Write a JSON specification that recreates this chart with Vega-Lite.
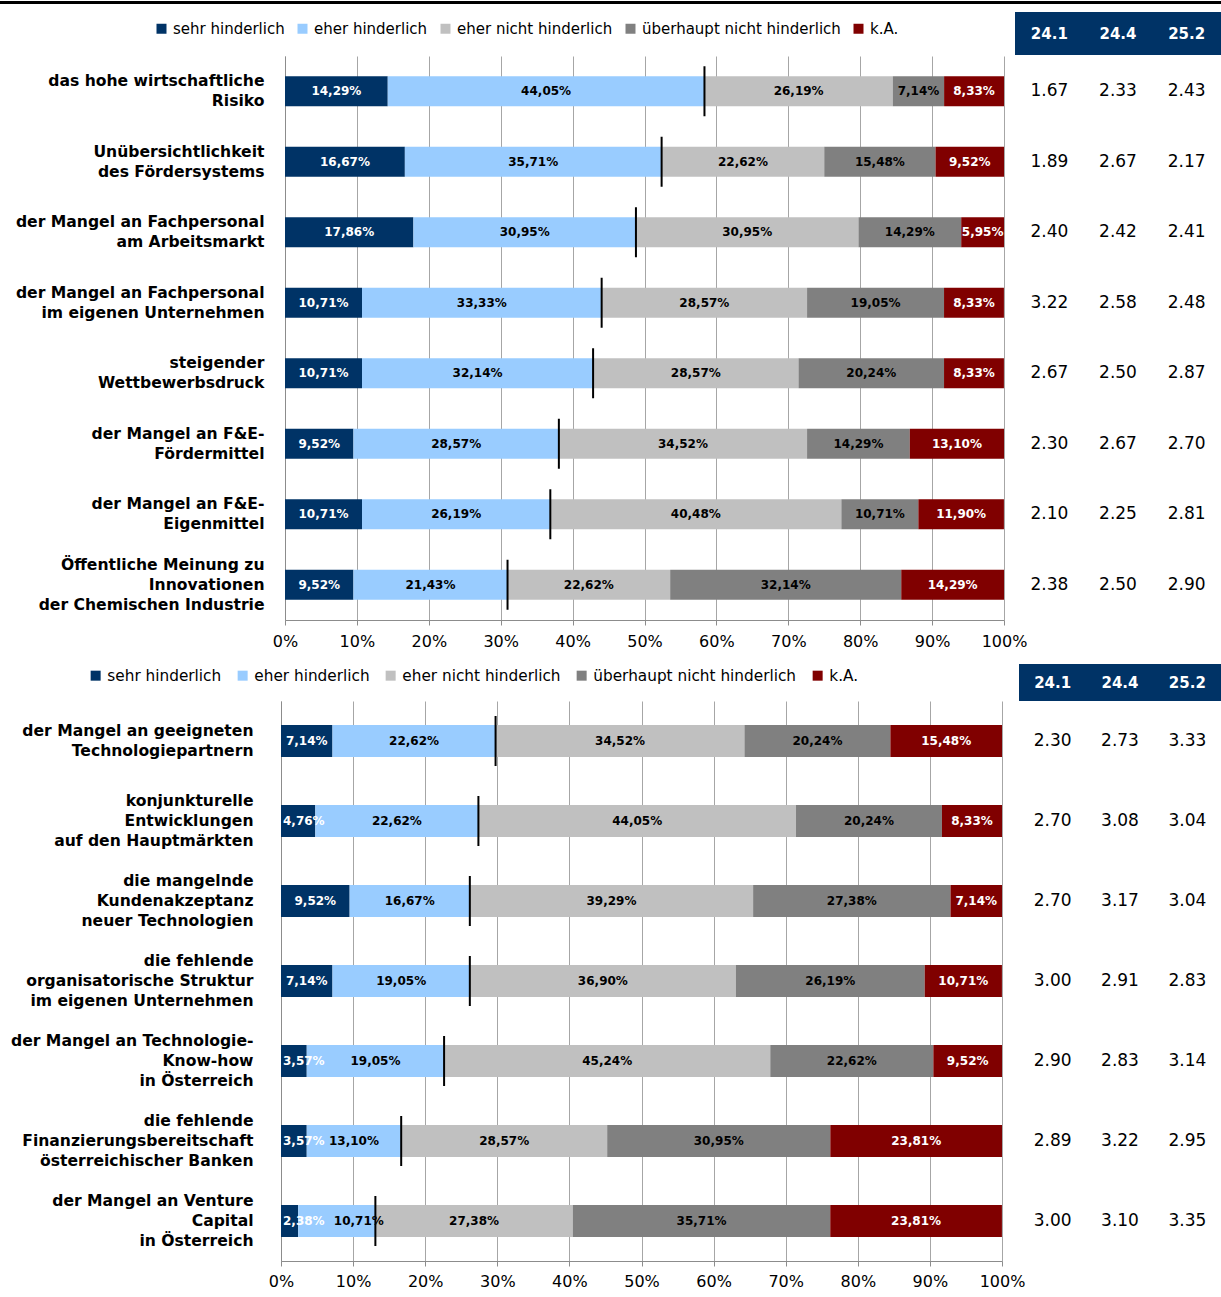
{
  "$schema": "https://vega.github.io/schema/vega-lite/v6.json",
  "padding": {"top": 1, "left": 0, "right": 0, "bottom": 0},
  "background": "white",
  "config": {"font": "DejaVu Sans", "view": {"stroke": null}},
  "datasets": {
    "top": [
      {"item": "das hohe wirtschaftliche|Risiko", "cat": "sehr hinderlich", "pct": 14.29},
      {"item": "das hohe wirtschaftliche|Risiko", "cat": "eher hinderlich", "pct": 44.05},
      {"item": "das hohe wirtschaftliche|Risiko", "cat": "eher nicht hinderlich", "pct": 26.19},
      {"item": "das hohe wirtschaftliche|Risiko", "cat": "überhaupt nicht hinderlich", "pct": 7.14},
      {"item": "das hohe wirtschaftliche|Risiko", "cat": "k.A.", "pct": 8.33},
      {"item": "Unübersichtlichkeit|des Fördersystems", "cat": "sehr hinderlich", "pct": 16.67},
      {"item": "Unübersichtlichkeit|des Fördersystems", "cat": "eher hinderlich", "pct": 35.71},
      {"item": "Unübersichtlichkeit|des Fördersystems", "cat": "eher nicht hinderlich", "pct": 22.62},
      {"item": "Unübersichtlichkeit|des Fördersystems", "cat": "überhaupt nicht hinderlich", "pct": 15.48},
      {"item": "Unübersichtlichkeit|des Fördersystems", "cat": "k.A.", "pct": 9.52},
      {"item": "der Mangel an Fachpersonal|am Arbeitsmarkt", "cat": "sehr hinderlich", "pct": 17.86},
      {"item": "der Mangel an Fachpersonal|am Arbeitsmarkt", "cat": "eher hinderlich", "pct": 30.95},
      {"item": "der Mangel an Fachpersonal|am Arbeitsmarkt", "cat": "eher nicht hinderlich", "pct": 30.95},
      {"item": "der Mangel an Fachpersonal|am Arbeitsmarkt", "cat": "überhaupt nicht hinderlich", "pct": 14.29},
      {"item": "der Mangel an Fachpersonal|am Arbeitsmarkt", "cat": "k.A.", "pct": 5.95},
      {"item": "der Mangel an Fachpersonal|im eigenen Unternehmen", "cat": "sehr hinderlich", "pct": 10.71},
      {"item": "der Mangel an Fachpersonal|im eigenen Unternehmen", "cat": "eher hinderlich", "pct": 33.33},
      {"item": "der Mangel an Fachpersonal|im eigenen Unternehmen", "cat": "eher nicht hinderlich", "pct": 28.57},
      {"item": "der Mangel an Fachpersonal|im eigenen Unternehmen", "cat": "überhaupt nicht hinderlich", "pct": 19.05},
      {"item": "der Mangel an Fachpersonal|im eigenen Unternehmen", "cat": "k.A.", "pct": 8.33},
      {"item": "steigender|Wettbewerbsdruck", "cat": "sehr hinderlich", "pct": 10.71},
      {"item": "steigender|Wettbewerbsdruck", "cat": "eher hinderlich", "pct": 32.14},
      {"item": "steigender|Wettbewerbsdruck", "cat": "eher nicht hinderlich", "pct": 28.57},
      {"item": "steigender|Wettbewerbsdruck", "cat": "überhaupt nicht hinderlich", "pct": 20.24},
      {"item": "steigender|Wettbewerbsdruck", "cat": "k.A.", "pct": 8.33},
      {"item": "der Mangel an F&E-|Fördermittel", "cat": "sehr hinderlich", "pct": 9.52},
      {"item": "der Mangel an F&E-|Fördermittel", "cat": "eher hinderlich", "pct": 28.57},
      {"item": "der Mangel an F&E-|Fördermittel", "cat": "eher nicht hinderlich", "pct": 34.52},
      {"item": "der Mangel an F&E-|Fördermittel", "cat": "überhaupt nicht hinderlich", "pct": 14.29},
      {"item": "der Mangel an F&E-|Fördermittel", "cat": "k.A.", "pct": 13.10},
      {"item": "der Mangel an F&E-|Eigenmittel", "cat": "sehr hinderlich", "pct": 10.71},
      {"item": "der Mangel an F&E-|Eigenmittel", "cat": "eher hinderlich", "pct": 26.19},
      {"item": "der Mangel an F&E-|Eigenmittel", "cat": "eher nicht hinderlich", "pct": 40.48},
      {"item": "der Mangel an F&E-|Eigenmittel", "cat": "überhaupt nicht hinderlich", "pct": 10.71},
      {"item": "der Mangel an F&E-|Eigenmittel", "cat": "k.A.", "pct": 11.90},
      {"item": "Öffentliche Meinung zu|Innovationen|der Chemischen Industrie", "cat": "sehr hinderlich", "pct": 9.52},
      {"item": "Öffentliche Meinung zu|Innovationen|der Chemischen Industrie", "cat": "eher hinderlich", "pct": 21.43},
      {"item": "Öffentliche Meinung zu|Innovationen|der Chemischen Industrie", "cat": "eher nicht hinderlich", "pct": 22.62},
      {"item": "Öffentliche Meinung zu|Innovationen|der Chemischen Industrie", "cat": "überhaupt nicht hinderlich", "pct": 32.14},
      {"item": "Öffentliche Meinung zu|Innovationen|der Chemischen Industrie", "cat": "k.A.", "pct": 14.29}
    ],
    "topTab": [
      {"row": 1, "col": "24.1", "val": 1.67}, {"row": 1, "col": "24.4", "val": 2.33}, {"row": 1, "col": "25.2", "val": 2.43},
      {"row": 2, "col": "24.1", "val": 1.89}, {"row": 2, "col": "24.4", "val": 2.67}, {"row": 2, "col": "25.2", "val": 2.17},
      {"row": 3, "col": "24.1", "val": 2.40}, {"row": 3, "col": "24.4", "val": 2.42}, {"row": 3, "col": "25.2", "val": 2.41},
      {"row": 4, "col": "24.1", "val": 3.22}, {"row": 4, "col": "24.4", "val": 2.58}, {"row": 4, "col": "25.2", "val": 2.48},
      {"row": 5, "col": "24.1", "val": 2.67}, {"row": 5, "col": "24.4", "val": 2.50}, {"row": 5, "col": "25.2", "val": 2.87},
      {"row": 6, "col": "24.1", "val": 2.30}, {"row": 6, "col": "24.4", "val": 2.67}, {"row": 6, "col": "25.2", "val": 2.70},
      {"row": 7, "col": "24.1", "val": 2.10}, {"row": 7, "col": "24.4", "val": 2.25}, {"row": 7, "col": "25.2", "val": 2.81},
      {"row": 8, "col": "24.1", "val": 2.38}, {"row": 8, "col": "24.4", "val": 2.50}, {"row": 8, "col": "25.2", "val": 2.90}
    ],
    "bot": [
      {"item": "der Mangel an geeigneten|Technologiepartnern", "cat": "sehr hinderlich", "pct": 7.14},
      {"item": "der Mangel an geeigneten|Technologiepartnern", "cat": "eher hinderlich", "pct": 22.62},
      {"item": "der Mangel an geeigneten|Technologiepartnern", "cat": "eher nicht hinderlich", "pct": 34.52},
      {"item": "der Mangel an geeigneten|Technologiepartnern", "cat": "überhaupt nicht hinderlich", "pct": 20.24},
      {"item": "der Mangel an geeigneten|Technologiepartnern", "cat": "k.A.", "pct": 15.48},
      {"item": "konjunkturelle|Entwicklungen|auf den Hauptmärkten", "cat": "sehr hinderlich", "pct": 4.76},
      {"item": "konjunkturelle|Entwicklungen|auf den Hauptmärkten", "cat": "eher hinderlich", "pct": 22.62},
      {"item": "konjunkturelle|Entwicklungen|auf den Hauptmärkten", "cat": "eher nicht hinderlich", "pct": 44.05},
      {"item": "konjunkturelle|Entwicklungen|auf den Hauptmärkten", "cat": "überhaupt nicht hinderlich", "pct": 20.24},
      {"item": "konjunkturelle|Entwicklungen|auf den Hauptmärkten", "cat": "k.A.", "pct": 8.33},
      {"item": "die mangelnde|Kundenakzeptanz|neuer Technologien", "cat": "sehr hinderlich", "pct": 9.52},
      {"item": "die mangelnde|Kundenakzeptanz|neuer Technologien", "cat": "eher hinderlich", "pct": 16.67},
      {"item": "die mangelnde|Kundenakzeptanz|neuer Technologien", "cat": "eher nicht hinderlich", "pct": 39.29},
      {"item": "die mangelnde|Kundenakzeptanz|neuer Technologien", "cat": "überhaupt nicht hinderlich", "pct": 27.38},
      {"item": "die mangelnde|Kundenakzeptanz|neuer Technologien", "cat": "k.A.", "pct": 7.14},
      {"item": "die fehlende|organisatorische Struktur|im eigenen Unternehmen", "cat": "sehr hinderlich", "pct": 7.14},
      {"item": "die fehlende|organisatorische Struktur|im eigenen Unternehmen", "cat": "eher hinderlich", "pct": 19.05},
      {"item": "die fehlende|organisatorische Struktur|im eigenen Unternehmen", "cat": "eher nicht hinderlich", "pct": 36.90},
      {"item": "die fehlende|organisatorische Struktur|im eigenen Unternehmen", "cat": "überhaupt nicht hinderlich", "pct": 26.19},
      {"item": "die fehlende|organisatorische Struktur|im eigenen Unternehmen", "cat": "k.A.", "pct": 10.71},
      {"item": "der Mangel an Technologie-|Know-how|in Österreich", "cat": "sehr hinderlich", "pct": 3.57},
      {"item": "der Mangel an Technologie-|Know-how|in Österreich", "cat": "eher hinderlich", "pct": 19.05},
      {"item": "der Mangel an Technologie-|Know-how|in Österreich", "cat": "eher nicht hinderlich", "pct": 45.24},
      {"item": "der Mangel an Technologie-|Know-how|in Österreich", "cat": "überhaupt nicht hinderlich", "pct": 22.62},
      {"item": "der Mangel an Technologie-|Know-how|in Österreich", "cat": "k.A.", "pct": 9.52},
      {"item": "die fehlende|Finanzierungsbereitschaft|österreichischer Banken", "cat": "sehr hinderlich", "pct": 3.57},
      {"item": "die fehlende|Finanzierungsbereitschaft|österreichischer Banken", "cat": "eher hinderlich", "pct": 13.10},
      {"item": "die fehlende|Finanzierungsbereitschaft|österreichischer Banken", "cat": "eher nicht hinderlich", "pct": 28.57},
      {"item": "die fehlende|Finanzierungsbereitschaft|österreichischer Banken", "cat": "überhaupt nicht hinderlich", "pct": 30.95},
      {"item": "die fehlende|Finanzierungsbereitschaft|österreichischer Banken", "cat": "k.A.", "pct": 23.81},
      {"item": "der Mangel an Venture|Capital|in Österreich", "cat": "sehr hinderlich", "pct": 2.38},
      {"item": "der Mangel an Venture|Capital|in Österreich", "cat": "eher hinderlich", "pct": 10.71},
      {"item": "der Mangel an Venture|Capital|in Österreich", "cat": "eher nicht hinderlich", "pct": 27.38},
      {"item": "der Mangel an Venture|Capital|in Österreich", "cat": "überhaupt nicht hinderlich", "pct": 35.71},
      {"item": "der Mangel an Venture|Capital|in Österreich", "cat": "k.A.", "pct": 23.81}
    ],
    "botTab": [
      {"row": 1, "col": "24.1", "val": 2.30}, {"row": 1, "col": "24.4", "val": 2.73}, {"row": 1, "col": "25.2", "val": 3.33},
      {"row": 2, "col": "24.1", "val": 2.70}, {"row": 2, "col": "24.4", "val": 3.08}, {"row": 2, "col": "25.2", "val": 3.04},
      {"row": 3, "col": "24.1", "val": 2.70}, {"row": 3, "col": "24.4", "val": 3.17}, {"row": 3, "col": "25.2", "val": 3.04},
      {"row": 4, "col": "24.1", "val": 3.00}, {"row": 4, "col": "24.4", "val": 2.91}, {"row": 4, "col": "25.2", "val": 2.83},
      {"row": 5, "col": "24.1", "val": 2.90}, {"row": 5, "col": "24.4", "val": 2.83}, {"row": 5, "col": "25.2", "val": 3.14},
      {"row": 6, "col": "24.1", "val": 2.89}, {"row": 6, "col": "24.4", "val": 3.22}, {"row": 6, "col": "25.2", "val": 2.95},
      {"row": 7, "col": "24.1", "val": 3.00}, {"row": 7, "col": "24.4", "val": 3.10}, {"row": 7, "col": "25.2", "val": 3.35}
    ],
    "cols": [{"col": "24.1"}, {"col": "24.4"}, {"col": "25.2"}]
  },
  "spacing": 0,
  "resolve": {"scale": {"color": "independent", "x": "independent", "y": "independent"}, "legend": {"color": "independent"}},
  "vconcat": [
    {"width": 1221, "height": 3, "view": {"fill": "black", "stroke": null}, "data": {"values": []}, "mark": "point"},
    {"width": 1, "height": 8, "data": {"values": []}, "mark": "point"},
    {
      "hconcat": [
        {
          "width": 1015, "height": 43,
          "data": {"values": []},
          "mark": {"type": "square"},
          "encoding": {
            "color": {
              "field": "cat", "type": "nominal",
              "scale": {"domain": ["sehr hinderlich", "eher hinderlich", "eher nicht hinderlich", "überhaupt nicht hinderlich", "k.A."], "range": ["#003366", "#99ccff", "#c0c0c0", "#808080", "#800000"]},
              "legend": {"orient": "none", "direction": "horizontal", "legendX": 154, "legendY": 9, "title": null, "symbolType": "square", "symbolSize": 100, "symbolStrokeWidth": 0, "symbolOpacity": 1, "labelFont": "DejaVu Sans", "labelFontSize": 15, "labelColor": "black", "labelOffset": 4, "columnPadding": 10, "labelLimit": 400}
            }
          }
        },
        {
          "width": 206, "height": 43,
          "view": {"fill": "#003366", "stroke": null},
          "data": {"name": "cols"},
          "mark": {"type": "text", "color": "white", "fontWeight": "bold", "fontSize": 15, "font": "DejaVu Sans"},
          "encoding": {
            "x": {"field": "col", "type": "nominal", "sort": null, "axis": null},
            "text": {"field": "col"}
          }
        }
      ],
      "spacing": 0, "bounds": "flush"
    },
    {"width": 1, "height": 1, "data": {"values": []}, "mark": "point"},
    {
      "hconcat": [
        {"width": 285, "height": 564, "data": {"values": []}, "mark": "point"},
        {
          "width": 719, "height": 564,
          "data": {"name": "top"},
          "transform": [
            {"window": [{"op": "row_number", "as": "ord"}], "groupby": ["item"]},
            {"stack": "pct", "groupby": ["item"], "sort": [{"field": "ord"}], "as": ["x0", "x1"]},
            {"calculate": "datum.ord == 1 && datum.pct < 6 ? datum.x0 : (datum.x0 + datum.x1) / 2", "as": "lx"}
          ],
          "encoding": {
            "y": {
              "field": "item", "type": "nominal", "sort": null, "title": null,
              "scale": {"paddingInner": 0.575, "paddingOuter": 0.2875},
              "axis": {"labelExpr": "split(datum.label, '|')", "labelFont": "DejaVu Sans", "labelFontWeight": "bold", "labelFontSize": 15.6, "labelLineHeight": 20, "labelColor": "black", "labelPadding": 21, "ticks": false, "domainColor": "#8c8c8c", "labelLimit": 400,
                "labelOffset": {"condition": {"test": "length(split(datum.label, '|')) >= 3", "value": -20}, "value": -10}}
            }
          },
          "layer": [
            {
              "mark": {"type": "bar"},
              "encoding": {
                "x": {"field": "x0", "type": "quantitative", "title": null, "scale": {"domain": [0, 100], "nice": false},
                  "axis": {"values": [0, 10, 20, 30, 40, 50, 60, 70, 80, 90, 100], "labelExpr": "datum.value + '%'", "grid": true, "gridColor": "#a6a6a6", "domainColor": "#8c8c8c", "tickColor": "#8c8c8c", "tickSize": 5, "labelFont": "DejaVu Sans", "labelFontSize": 16, "labelColor": "black", "labelPadding": 8, "labelFlush": false, "labelOverlap": false}},
                "x2": {"field": "x1"},
                "color": {
                  "field": "cat", "type": "nominal",
                  "scale": {"domain": ["sehr hinderlich", "eher hinderlich", "eher nicht hinderlich", "überhaupt nicht hinderlich", "k.A."], "range": ["#003366", "#99ccff", "#c0c0c0", "#808080", "#800000"]},
                  "legend": null
                }
              }
            },
            {
              "mark": {"type": "text", "fontWeight": "bold", "fontSize": 12, "font": "DejaVu Sans",
                "text": {"expr": "replace(format(datum.pct, '.2f'), '.', ',') + '%'"},
                "align": {"expr": "datum.ord == 1 && datum.pct < 6 ? 'left' : 'center'"},
                "dx": {"expr": "datum.ord == 1 && datum.pct < 6 ? 2 : 0"}},
              "encoding": {
                "x": {"field": "lx", "type": "quantitative"},
                "color": {"condition": {"test": "datum.ord == 1 || datum.ord == 5", "value": "white"}, "value": "black"}
              }
            },
            {
              "transform": [
                {"filter": "datum.ord <= 2"},
                {"aggregate": [{"op": "sum", "field": "pct", "as": "hind"}], "groupby": ["item"]}
              ],
              "mark": {"type": "tick", "color": "black", "opacity": 1, "thickness": 2, "size": 50},
              "encoding": {"x": {"field": "hind", "type": "quantitative"}}
            }
          ]
        },
        {"width": 11, "height": 564, "data": {"values": []}, "mark": "point"},
        {
          "width": 206, "height": 564,
          "data": {"name": "topTab"},
          "mark": {"type": "text", "font": "DejaVu Sans", "fontSize": 17, "color": "black"},
          "encoding": {
            "x": {"field": "col", "type": "nominal", "sort": null, "axis": null},
            "y": {"field": "row", "type": "ordinal", "axis": null},
            "text": {"field": "val", "type": "quantitative", "format": ".2f"}
          }
        }
      ],
      "spacing": 0, "bounds": "flush"
    },
    {"width": 1, "height": 15, "data": {"values": []}, "mark": "point"},
    {
      "hconcat": [
        {
          "width": 1019, "height": 37,
          "data": {"values": []},
          "mark": {"type": "square"},
          "encoding": {
            "color": {
              "field": "cat", "type": "nominal",
              "scale": {"domain": ["sehr hinderlich", "eher hinderlich", "eher nicht hinderlich", "überhaupt nicht hinderlich", "k.A."], "range": ["#003366", "#99ccff", "#c0c0c0", "#808080", "#800000"]},
              "legend": {"orient": "none", "direction": "horizontal", "legendX": 88, "legendY": 4, "title": null, "symbolType": "square", "symbolSize": 100, "symbolStrokeWidth": 0, "symbolOpacity": 1, "labelFont": "DejaVu Sans", "labelFontSize": 15.3, "labelColor": "black", "labelOffset": 4, "columnPadding": 13, "labelLimit": 400}
            }
          }
        },
        {
          "width": 202, "height": 37,
          "view": {"fill": "#003366", "stroke": null},
          "data": {"name": "cols"},
          "mark": {"type": "text", "color": "white", "fontWeight": "bold", "fontSize": 15, "font": "DejaVu Sans"},
          "encoding": {
            "x": {"field": "col", "type": "nominal", "sort": null, "axis": null},
            "text": {"field": "col"}
          }
        }
      ],
      "spacing": 0, "bounds": "flush"
    },
    {
      "hconcat": [
        {"width": 281, "height": 560, "data": {"values": []}, "mark": "point"},
        {
          "width": 721, "height": 560,
          "data": {"name": "bot"},
          "transform": [
            {"window": [{"op": "row_number", "as": "ord"}], "groupby": ["item"]},
            {"stack": "pct", "groupby": ["item"], "sort": [{"field": "ord"}], "as": ["x0", "x1"]},
            {"calculate": "datum.ord == 1 && datum.pct < 6 ? datum.x0 : (datum.x0 + datum.x1) / 2", "as": "lx"}
          ],
          "encoding": {
            "y": {
              "field": "item", "type": "nominal", "sort": null, "title": null,
              "scale": {"paddingInner": 0.6, "paddingOuter": 0.3},
              "axis": {"labelExpr": "split(datum.label, '|')", "labelFont": "DejaVu Sans", "labelFontWeight": "bold", "labelFontSize": 15.6, "labelLineHeight": 20, "labelColor": "black", "labelPadding": 28, "ticks": false, "domainColor": "#8c8c8c", "labelLimit": 400,
                "labelOffset": {"condition": {"test": "length(split(datum.label, '|')) >= 3", "value": -20}, "value": -10}}
            }
          },
          "layer": [
            {
              "mark": {"type": "bar"},
              "encoding": {
                "x": {"field": "x0", "type": "quantitative", "title": null, "scale": {"domain": [0, 100], "nice": false},
                  "axis": {"values": [0, 10, 20, 30, 40, 50, 60, 70, 80, 90, 100], "labelExpr": "datum.value + '%'", "grid": true, "gridColor": "#a6a6a6", "domainColor": "#8c8c8c", "tickColor": "#8c8c8c", "tickSize": 5, "labelFont": "DejaVu Sans", "labelFontSize": 16, "labelColor": "black", "labelPadding": 7, "labelFlush": false, "labelOverlap": false}},
                "x2": {"field": "x1"},
                "color": {
                  "field": "cat", "type": "nominal",
                  "scale": {"domain": ["sehr hinderlich", "eher hinderlich", "eher nicht hinderlich", "überhaupt nicht hinderlich", "k.A."], "range": ["#003366", "#99ccff", "#c0c0c0", "#808080", "#800000"]},
                  "legend": null
                }
              }
            },
            {
              "mark": {"type": "text", "fontWeight": "bold", "fontSize": 12, "font": "DejaVu Sans",
                "text": {"expr": "replace(format(datum.pct, '.2f'), '.', ',') + '%'"},
                "align": {"expr": "datum.ord == 1 && datum.pct < 6 ? 'left' : 'center'"},
                "dx": {"expr": "datum.ord == 1 && datum.pct < 6 ? 2 : (datum.ord == 2 && datum.x0 < 3 ? 22 : 0)"}},
              "encoding": {
                "x": {"field": "lx", "type": "quantitative"},
                "color": {"condition": {"test": "datum.ord == 1 || datum.ord == 5", "value": "white"}, "value": "black"}
              }
            },
            {
              "transform": [
                {"filter": "datum.ord <= 2"},
                {"aggregate": [{"op": "sum", "field": "pct", "as": "hind"}], "groupby": ["item"]}
              ],
              "mark": {"type": "tick", "color": "black", "opacity": 1, "thickness": 2, "size": 50},
              "encoding": {"x": {"field": "hind", "type": "quantitative"}}
            }
          ]
        },
        {"width": 17, "height": 560, "data": {"values": []}, "mark": "point"},
        {
          "width": 202, "height": 560,
          "data": {"name": "botTab"},
          "mark": {"type": "text", "font": "DejaVu Sans", "fontSize": 17, "color": "black"},
          "encoding": {
            "x": {"field": "col", "type": "nominal", "sort": null, "axis": null},
            "y": {"field": "row", "type": "ordinal", "axis": null},
            "text": {"field": "val", "type": "quantitative", "format": ".2f"}
          }
        }
      ],
      "spacing": 0, "bounds": "flush"
    }
  ]
}
